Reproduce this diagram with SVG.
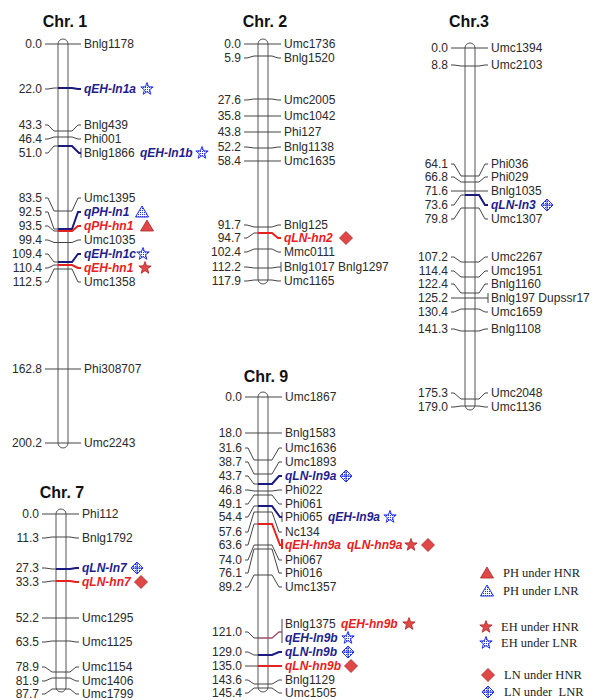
<svg xmlns="http://www.w3.org/2000/svg" width="593" height="700" viewBox="0 0 593 700">
<style>
.num{font-family:"Liberation Sans",Arial,sans-serif;font-size:12px;fill:#2a2a2a;text-anchor:end}
.lab{font-family:"Liberation Sans",Arial,sans-serif;font-size:12px;fill:#2a2a2a}
.qb{font-family:"Liberation Sans",Arial,sans-serif;font-size:12px;font-weight:bold;font-style:italic;fill:#1e1e8c}
.qr{font-family:"Liberation Sans",Arial,sans-serif;font-size:12px;font-weight:bold;font-style:italic;fill:#e8201e}
.chr{font-family:"Liberation Sans",Arial,sans-serif;font-size:16px;font-weight:bold;fill:#111;text-anchor:middle}
.leg{font-family:"Liberation Serif","Times New Roman",serif;font-size:12.5px;fill:#222}
.bar{fill:#fff;stroke:#555;stroke-width:1}
.k{fill:none;stroke:#444;stroke-width:1}
.b{fill:none;stroke:#1a1a80;stroke-width:2}
.r{fill:none;stroke:#e8201e;stroke-width:2}
.m{fill:none;stroke:#a0506e;stroke-width:1.3}
.sr{fill:#e04848;stroke:#a82828;stroke-width:0.8}
.sb{fill:url(#hatch);stroke:#2030f0;stroke-width:1}
</style>
<defs>
<pattern id="hatch" width="2" height="2" patternUnits="userSpaceOnUse"><rect width="1" height="1" fill="#2030f0"/></pattern>
<path id="star" d="M0,-6.5 L1.59,-2.18 L6.18,-2.01 L2.57,0.83 L3.82,5.26 L0,2.7 L-3.82,5.26 L-2.57,0.83 L-6.18,-2.01 L-1.59,-2.18Z"/>
<path id="tri" d="M0,-6 L6.5,5 L-6.5,5Z"/>
<path id="dia" d="M0,-6.5 L6.5,0 L0,6.5 L-6.5,0Z"/>
<g id="lnb"><path d="M0,-6 L6,0 L0,6 L-6,0Z" fill="url(#hatch)" stroke="#2030f0" stroke-width="1"/><path d="M0,-6V6M-6,0H6" stroke="#2030f0" stroke-width="1"/></g>
</defs>

<g id="chr1">
<text class="chr" x="65" y="27">Chr. 1</text>
<rect class="bar" x="58" y="39" width="10" height="409" rx="5"/>
<g id="chr1-connectors">
<polyline class="k" points="45,44 81,44"/>
<polyline class="k" points="45,125 48,125 54,131 72,131 78,125 81,125"/>
<polyline class="k" points="45,139 48,139 54,137 72,137 78,139 81,139"/>
<polyline class="k" points="45,198 48,198 54,211 72,211 78,198 81,198"/>
<polyline class="k" points="45,240 48,240 54,242.5 72,242.5 78,240 81,240"/>
<polyline class="k" points="45,282 48,282 54,269 72,269 78,282 81,282"/>
<polyline class="k" points="45,369 81,369"/>
<polyline class="k" points="45,443 81,443"/>
<polyline class="k" points="45,89 48,89 54,88 58,88"/>
<polyline class="k" points="45,153 48,153 54,146 58,146"/>
<polyline class="k" points="45,212 48,212 54,229 58,229"/>
<polyline class="k" points="45,226 48,226 54,231 58,231"/>
<polyline class="k" points="45,254 48,254 54,262 58,262"/>
<polyline class="k" points="45,268 48,268 54,265 58,265"/>
<polyline class="k" points="81,148 81,158"/>
<polyline class="b" points="58,88 72,88 78,89 81,89"/>
<polyline class="b" points="58,146 72,146 79,153 81,153"/>
<polyline class="b" points="58,229 72,229 78,212 81,212"/>
<polyline class="r" points="58,231 72,231 78,226 81,226"/>
<polyline class="b" points="58,262 72,262 78,254 81,254"/>
<polyline class="r" points="58,265 72,265 78,268 81,268"/>
</g>
<text class="num" x="42" y="48">0.0</text>
<text class="num" x="42" y="93">22.0</text>
<text class="num" x="42" y="129">43.3</text>
<text class="num" x="42" y="143">46.4</text>
<text class="num" x="42" y="157">51.0</text>
<text class="num" x="42" y="202">83.5</text>
<text class="num" x="42" y="216">92.5</text>
<text class="num" x="42" y="230">93.5</text>
<text class="num" x="42" y="244">99.4</text>
<text class="num" x="42" y="258">109.4</text>
<text class="num" x="42" y="272">110.4</text>
<text class="num" x="42" y="286">112.5</text>
<text class="num" x="42" y="373">162.8</text>
<text class="num" x="42" y="447">200.2</text>
<text class="lab" x="84" y="48">Bnlg1178</text>
<text class="qb" x="84" y="93">qEH-ln1a</text>
<text class="lab" x="84" y="129">Bnlg439</text>
<text class="lab" x="84" y="143">Phi001</text>
<text class="lab" x="84" y="157">Bnlg1866</text>
<text class="qb" x="140" y="157">qEH-ln1b</text>
<text class="lab" x="84" y="202">Umc1395</text>
<text class="qb" x="84" y="216">qPH-ln1</text>
<text class="qr" x="84" y="230">qPH-hn1</text>
<text class="lab" x="84" y="244">Umc1035</text>
<text class="qb" x="84" y="258">qEH-ln1c</text>
<text class="qr" x="84" y="272">qEH-hn1</text>
<text class="lab" x="84" y="286">Umc1358</text>
<text class="lab" x="84" y="373">Phi308707</text>
<text class="lab" x="84" y="447">Umc2243</text>
<use href="#star" class="sb" x="147" y="89"/>
<use href="#star" class="sb" x="202" y="153"/>
<use href="#tri" class="sb" x="142" y="212"/>
<use href="#tri" class="sr" x="147" y="226"/>
<use href="#star" class="sb" x="143" y="254"/>
<use href="#star" class="sr" x="145" y="268"/>
</g>

<g id="chr2">
<text class="chr" x="265" y="27">Chr. 2</text>
<rect class="bar" x="258" y="39" width="10" height="245" rx="5"/>
<g id="chr2-connectors">
<polyline class="k" points="244,44 281,44"/>
<polyline class="k" points="244,58 247,58 254,56 272,56 278,58 281,58"/>
<polyline class="k" points="244,100 247,100 254,99 272,99 278,100 281,100"/>
<polyline class="k" points="244,116 281,116"/>
<polyline class="k" points="244,132 281,132"/>
<polyline class="k" points="244,147 247,147 254,148 272,148 278,147 281,147"/>
<polyline class="k" points="244,161 281,161"/>
<polyline class="k" points="244,225 247,225 254,227 272,227 278,225 281,225"/>
<polyline class="k" points="244,238 247,238 254,233 258,233"/>
<polyline class="k" points="244,252 247,252 254,249 272,249 278,252 281,252"/>
<polyline class="k" points="244,267 247,267 254,268 272,268 278,267 281,267"/>
<polyline class="k" points="281,262 281,272"/>
<polyline class="k" points="244,281 247,281 254,280 272,280 278,281 281,281"/>
<polyline class="r" points="258,233 272,233 278,238 281,238"/>
</g>
<text class="num" x="241" y="48">0.0</text>
<text class="num" x="241" y="62">5.9</text>
<text class="num" x="241" y="104">27.6</text>
<text class="num" x="241" y="120">35.8</text>
<text class="num" x="241" y="136">43.8</text>
<text class="num" x="241" y="151">52.2</text>
<text class="num" x="241" y="165">58.4</text>
<text class="num" x="241" y="229">91.7</text>
<text class="num" x="241" y="242">94.7</text>
<text class="num" x="241" y="256">102.4</text>
<text class="num" x="241" y="271">112.2</text>
<text class="num" x="241" y="285">117.9</text>
<text class="lab" x="284" y="48">Umc1736</text>
<text class="lab" x="284" y="62">Bnlg1520</text>
<text class="lab" x="284" y="104">Umc2005</text>
<text class="lab" x="284" y="120">Umc1042</text>
<text class="lab" x="284" y="136">Phi127</text>
<text class="lab" x="284" y="151">Bnlg1138</text>
<text class="lab" x="284" y="165">Umc1635</text>
<text class="lab" x="284" y="229">Bnlg125</text>
<text class="qr" x="284" y="242">qLN-hn2</text>
<text class="lab" x="284" y="256">Mmc0111</text>
<text class="lab" x="284" y="271">Bnlg1017 Bnlg1297</text>
<text class="lab" x="284" y="285">Umc1165</text>
<use href="#dia" class="sr" x="346" y="238"/>
</g>

<g id="chr3">
<text class="chr" x="469" y="27">Chr.3</text>
<rect class="bar" x="465" y="43" width="10" height="367" rx="5"/>
<g id="chr3-connectors">
<polyline class="k" points="451,48 488,48"/>
<polyline class="k" points="451,65 454,65 461,66 479,66 485,65 488,65"/>
<polyline class="k" points="451,164 454,164 461,176 479,176 485,164 488,164"/>
<polyline class="k" points="451,177 454,177 461,182 479,182 485,177 488,177"/>
<polyline class="k" points="451,191 488,191"/>
<polyline class="k" points="451,205 454,205 461,195 465,195"/>
<polyline class="k" points="451,219 454,219 461,208 479,208 485,219 488,219"/>
<polyline class="k" points="451,257 454,257 461,262 479,262 485,257 488,257"/>
<polyline class="k" points="451,271 454,271 461,277 479,277 485,271 488,271"/>
<polyline class="k" points="451,284 454,284 461,293 479,293 485,284 488,284"/>
<polyline class="k" points="451,298 488,298"/>
<polyline class="k" points="488,293 488,303"/>
<polyline class="k" points="451,312 454,312 461,309 479,309 485,312 488,312"/>
<polyline class="k" points="451,329 454,329 461,331 479,331 485,329 488,329"/>
<polyline class="k" points="451,393 454,393 461,399 479,399 485,393 488,393"/>
<polyline class="k" points="451,407 454,407 461,406 479,406 485,407 488,407"/>
<polyline class="b" points="465,195 479,195 485,205 488,205"/>
</g>
<text class="num" x="448" y="52">0.0</text>
<text class="num" x="448" y="69">8.8</text>
<text class="num" x="448" y="168">64.1</text>
<text class="num" x="448" y="181">66.8</text>
<text class="num" x="448" y="195">71.6</text>
<text class="num" x="448" y="209">73.6</text>
<text class="num" x="448" y="223">79.8</text>
<text class="num" x="448" y="261">107.2</text>
<text class="num" x="448" y="275">114.4</text>
<text class="num" x="448" y="288">122.4</text>
<text class="num" x="448" y="302">125.2</text>
<text class="num" x="448" y="316">130.4</text>
<text class="num" x="448" y="333">141.3</text>
<text class="num" x="448" y="397">175.3</text>
<text class="num" x="448" y="411">179.0</text>
<text class="lab" x="491" y="52">Umc1394</text>
<text class="lab" x="491" y="69">Umc2103</text>
<text class="lab" x="491" y="168">Phi036</text>
<text class="lab" x="491" y="181">Phi029</text>
<text class="lab" x="491" y="195">Bnlg1035</text>
<text class="qb" x="491" y="209">qLN-ln3</text>
<text class="lab" x="491" y="223">Umc1307</text>
<text class="lab" x="491" y="261">Umc2267</text>
<text class="lab" x="491" y="275">Umc1951</text>
<text class="lab" x="491" y="288">Bnlg1160</text>
<text class="lab" x="491" y="302">Bnlg197 Dupssr17</text>
<text class="lab" x="491" y="316">Umc1659</text>
<text class="lab" x="491" y="333">Bnlg1108</text>
<text class="lab" x="491" y="397">Umc2048</text>
<text class="lab" x="491" y="411">Umc1136</text>
<use href="#lnb" x="547" y="205"/>
</g>

<g id="chr7">
<text class="chr" x="62" y="498">Chr. 7</text>
<rect class="bar" x="56" y="509" width="10" height="183" rx="5"/>
<g id="chr7-connectors">
<polyline class="k" points="42,514 79,514"/>
<polyline class="k" points="42,538 45,538 52,537 70,537 76,538 79,538"/>
<polyline class="k" points="42,568 45,568 52,569 56,569"/>
<polyline class="k" points="42,582 45,582 52,581 56,581"/>
<polyline class="k" points="42,618 79,618"/>
<polyline class="k" points="42,642 45,642 52,641 70,641 76,642 79,642"/>
<polyline class="k" points="42,667 45,667 52,672 70,672 76,667 79,667"/>
<polyline class="k" points="42,681 45,681 52,678 70,678 76,681 79,681"/>
<polyline class="k" points="42,694 45,694 52,689 70,689 76,694 79,694"/>
<polyline class="b" points="56,569 70,569 76,568 79,568"/>
<polyline class="r" points="56,581 70,581 76,582 79,582"/>
</g>
<text class="num" x="39" y="518">0.0</text>
<text class="num" x="39" y="542">11.3</text>
<text class="num" x="39" y="572">27.3</text>
<text class="num" x="39" y="586">33.3</text>
<text class="num" x="39" y="622">52.2</text>
<text class="num" x="39" y="646">63.5</text>
<text class="num" x="39" y="671">78.9</text>
<text class="num" x="39" y="685">81.9</text>
<text class="num" x="39" y="698">87.7</text>
<text class="lab" x="82" y="518">Phi112</text>
<text class="lab" x="82" y="542">Bnlg1792</text>
<text class="qb" x="82" y="572">qLN-ln7</text>
<text class="qr" x="82" y="586">qLN-hn7</text>
<text class="lab" x="82" y="622">Umc1295</text>
<text class="lab" x="82" y="646">Umc1125</text>
<text class="lab" x="82" y="671">Umc1154</text>
<text class="lab" x="82" y="685">Umc1406</text>
<text class="lab" x="82" y="698">Umc1799</text>
<use href="#lnb" x="137" y="568"/>
<use href="#dia" class="sr" x="141" y="582"/>
</g>

<g id="chr9">
<text class="chr" x="266" y="382">Chr. 9</text>
<rect class="bar" x="258" y="392" width="10" height="300" rx="5"/>
<g id="chr9-connectors">
<polyline class="k" points="245,397 282,397"/>
<polyline class="k" points="245,433 282,433"/>
<polyline class="k" points="245,448 248,448 254,460 272,460 279,448 282,448"/>
<polyline class="k" points="245,462 248,462 254,474 272,474 279,462 282,462"/>
<polyline class="k" points="245,476 248,476 254,484 258,484"/>
<polyline class="k" points="245,490 248,490 254,491 272,491 279,490 282,490"/>
<polyline class="k" points="245,504 248,504 254,495 272,495 279,504 282,504"/>
<polyline class="k" points="245,517 248,517 254,506 258,506"/>
<polyline class="k" points="282,512 282,522"/>
<polyline class="k" points="245,532 248,532 254,512 272,512 279,532 282,532"/>
<polyline class="k" points="245,545 248,545 254,524 258,524"/>
<polyline class="k" points="245,560 248,560 254,545 272,545 279,560 282,560"/>
<polyline class="k" points="245,573 248,573 254,549 272,549 279,573 282,573"/>
<polyline class="k" points="245,587 248,587 254,575 272,575 279,587 282,587"/>
<polyline class="k" points="245,632 248,632 254,638 258,638"/>
<polyline class="k" points="282,619 282,643"/>
<polyline class="k" points="245,652 248,652 254,655 258,655"/>
<polyline class="k" points="245,666 258,666"/>
<polyline class="k" points="245,680 248,680 254,684 272,684 279,680 282,680"/>
<polyline class="k" points="245,693 248,693 254,688 272,688 279,693 282,693"/>
<polyline class="b" points="258,484 272,484 279,476 282,476"/>
<polyline class="b" points="258,506 272,506 280,517 282,517"/>
<polyline class="r" points="258,524 272,524 280,545 282,545"/>
<polyline class="r" points="282,539 282,549"/>
<polyline class="m" points="258,638 272,638 279,632 282,632"/>
<polyline class="b" points="258,655 272,655 279,652 282,652"/>
<polyline class="r" points="258,666 282,666"/>
</g>
<text class="num" x="242" y="401">0.0</text>
<text class="num" x="242" y="437">18.0</text>
<text class="num" x="242" y="452">31.6</text>
<text class="num" x="242" y="466">38.7</text>
<text class="num" x="242" y="480">43.7</text>
<text class="num" x="242" y="494">46.8</text>
<text class="num" x="242" y="508">49.1</text>
<text class="num" x="242" y="521">54.4</text>
<text class="num" x="242" y="536">57.6</text>
<text class="num" x="242" y="549">63.6</text>
<text class="num" x="242" y="564">74.0</text>
<text class="num" x="242" y="577">76.1</text>
<text class="num" x="242" y="591">89.2</text>
<text class="num" x="242" y="636">121.0</text>
<text class="num" x="242" y="656">129.0</text>
<text class="num" x="242" y="670">135.0</text>
<text class="num" x="242" y="684">143.6</text>
<text class="num" x="242" y="697">145.4</text>
<text class="lab" x="285" y="401">Umc1867</text>
<text class="lab" x="285" y="437">Bnlg1583</text>
<text class="lab" x="285" y="452">Umc1636</text>
<text class="lab" x="285" y="466">Umc1893</text>
<text class="qb" x="285" y="480">qLN-ln9a</text>
<text class="lab" x="285" y="494">Phi022</text>
<text class="lab" x="285" y="508">Phi061</text>
<text class="lab" x="285" y="521">Phi065</text>
<text class="qb" x="328" y="521">qEH-ln9a</text>
<text class="lab" x="285" y="536">Nc134</text>
<text class="qr" x="285" y="549">qEH-hn9a</text>
<text class="qr" x="347" y="549">qLN-hn9a</text>
<text class="lab" x="285" y="564">Phi067</text>
<text class="lab" x="285" y="577">Phi016</text>
<text class="lab" x="285" y="591">Umc1357</text>
<text class="lab" x="285" y="628">Bnlg1375</text>
<text class="qr" x="341" y="628">qEH-hn9b</text>
<text class="qb" x="285" y="642">qEH-ln9b</text>
<text class="qb" x="285" y="656">qLN-ln9b</text>
<text class="qr" x="285" y="670">qLN-hn9b</text>
<text class="lab" x="285" y="684">Bnlg1129</text>
<text class="lab" x="285" y="697">Umc1505</text>
<use href="#lnb" x="346" y="476"/>
<use href="#star" class="sb" x="390" y="517"/>
<use href="#star" class="sr" x="411" y="545"/>
<use href="#dia" class="sr" x="428" y="545"/>
<use href="#star" class="sr" x="409" y="624"/>
<use href="#star" class="sb" x="348" y="638"/>
<use href="#lnb" x="348" y="652"/>
<use href="#dia" class="sr" x="351" y="666"/>
</g>

<g id="legend">
<use href="#tri" class="sr" x="487" y="573"/>
<text class="leg" x="503" y="577">PH under HNR</text>
<use href="#tri" class="sb" x="487" y="591"/>
<text class="leg" x="503" y="595">PH under LNR</text>
<use href="#star" class="sr" x="486" y="627"/>
<text class="leg" x="501" y="631">EH under HNR</text>
<use href="#star" class="sb" x="486" y="643"/>
<text class="leg" x="501" y="647">EH under LNR</text>
<use href="#dia" class="sr" x="488" y="675"/>
<text class="leg" x="504" y="679">LN under HNR</text>
<use href="#lnb" x="488" y="692"/>
<text class="leg" x="504" y="696" xml:space="preserve">LN under  LNR</text>
</g>
</svg>
